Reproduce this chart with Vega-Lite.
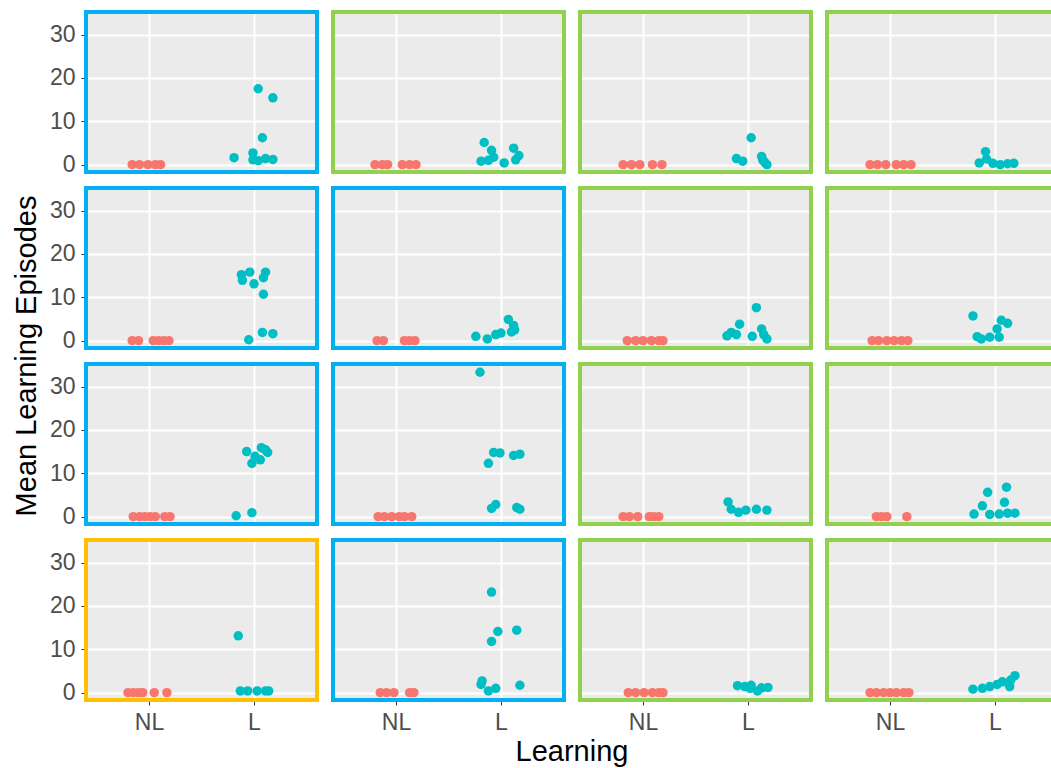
{
  "$schema": "https://vega.github.io/schema/vega-lite/v6.json",
  "padding": {"left": 12, "top": 10, "right": 0, "bottom": 4},
  "bounds": "flush",
  "background": "white",
  "data": {"values": [
    {"r":1,"c":1,"group":"A"},{"r":1,"c":2,"group":"B"},{"r":1,"c":3,"group":"B"},{"r":1,"c":4,"group":"B"},
    {"r":2,"c":1,"group":"A"},{"r":2,"c":2,"group":"A"},{"r":2,"c":3,"group":"B"},{"r":2,"c":4,"group":"B"},
    {"r":3,"c":1,"group":"A"},{"r":3,"c":2,"group":"A"},{"r":3,"c":3,"group":"B"},{"r":3,"c":4,"group":"B"},
    {"r":4,"c":1,"group":"C"},{"r":4,"c":2,"group":"A"},{"r":4,"c":3,"group":"B"},{"r":4,"c":4,"group":"B"},

    {"r":1,"c":1,"Learning":"NL","pos":0.84,"value":0},{"r":1,"c":1,"Learning":"NL","pos":0.91,"value":0},{"r":1,"c":1,"Learning":"NL","pos":0.99,"value":0},{"r":1,"c":1,"Learning":"NL","pos":1.06,"value":0},{"r":1,"c":1,"Learning":"NL","pos":1.11,"value":0},
    {"r":1,"c":1,"Learning":"L","pos":2.04,"value":17.5},{"r":1,"c":1,"Learning":"L","pos":2.18,"value":15.4},{"r":1,"c":1,"Learning":"L","pos":2.08,"value":6.2},{"r":1,"c":1,"Learning":"L","pos":1.81,"value":1.6},{"r":1,"c":1,"Learning":"L","pos":1.99,"value":2.7},{"r":1,"c":1,"Learning":"L","pos":1.99,"value":1.1},{"r":1,"c":1,"Learning":"L","pos":2.11,"value":1.4},{"r":1,"c":1,"Learning":"L","pos":2.18,"value":1.2},{"r":1,"c":1,"Learning":"L","pos":2.04,"value":0.9},

    {"r":1,"c":2,"Learning":"NL","pos":0.80,"value":0},{"r":1,"c":2,"Learning":"NL","pos":0.87,"value":0},{"r":1,"c":2,"Learning":"NL","pos":0.92,"value":0},{"r":1,"c":2,"Learning":"NL","pos":1.06,"value":0},{"r":1,"c":2,"Learning":"NL","pos":1.13,"value":0},{"r":1,"c":2,"Learning":"NL","pos":1.19,"value":0},
    {"r":1,"c":2,"Learning":"L","pos":1.84,"value":5.1},{"r":1,"c":2,"Learning":"L","pos":1.91,"value":3.3},{"r":1,"c":2,"Learning":"L","pos":1.81,"value":0.8},{"r":1,"c":2,"Learning":"L","pos":1.88,"value":1.0},{"r":1,"c":2,"Learning":"L","pos":1.93,"value":1.7},{"r":1,"c":2,"Learning":"L","pos":2.03,"value":0.4},{"r":1,"c":2,"Learning":"L","pos":2.12,"value":3.8},{"r":1,"c":2,"Learning":"L","pos":2.17,"value":2.1},{"r":1,"c":2,"Learning":"L","pos":2.14,"value":1.1},

    {"r":1,"c":3,"Learning":"NL","pos":0.81,"value":0},{"r":1,"c":3,"Learning":"NL","pos":0.89,"value":0},{"r":1,"c":3,"Learning":"NL","pos":0.97,"value":0},{"r":1,"c":3,"Learning":"NL","pos":1.09,"value":0},{"r":1,"c":3,"Learning":"NL","pos":1.18,"value":0},
    {"r":1,"c":3,"Learning":"L","pos":2.03,"value":6.2},{"r":1,"c":3,"Learning":"L","pos":1.89,"value":1.4},{"r":1,"c":3,"Learning":"L","pos":1.95,"value":0.8},{"r":1,"c":3,"Learning":"L","pos":2.13,"value":1.9},{"r":1,"c":3,"Learning":"L","pos":2.16,"value":0.5},{"r":1,"c":3,"Learning":"L","pos":2.18,"value":0.0},{"r":1,"c":3,"Learning":"L","pos":2.14,"value":1.1},

    {"r":1,"c":4,"Learning":"NL","pos":0.81,"value":0},{"r":1,"c":4,"Learning":"NL","pos":0.88,"value":0},{"r":1,"c":4,"Learning":"NL","pos":0.96,"value":0},{"r":1,"c":4,"Learning":"NL","pos":1.06,"value":0},{"r":1,"c":4,"Learning":"NL","pos":1.13,"value":0},{"r":1,"c":4,"Learning":"NL","pos":1.20,"value":0},
    {"r":1,"c":4,"Learning":"L","pos":1.91,"value":3.0},{"r":1,"c":4,"Learning":"L","pos":1.85,"value":0.4},{"r":1,"c":4,"Learning":"L","pos":1.92,"value":1.3},{"r":1,"c":4,"Learning":"L","pos":1.98,"value":0.3},{"r":1,"c":4,"Learning":"L","pos":2.05,"value":0.0},{"r":1,"c":4,"Learning":"L","pos":2.12,"value":0.2},{"r":1,"c":4,"Learning":"L","pos":2.18,"value":0.3},

    {"r":2,"c":1,"Learning":"NL","pos":0.84,"value":0},{"r":2,"c":1,"Learning":"NL","pos":0.90,"value":0},{"r":2,"c":1,"Learning":"NL","pos":1.04,"value":0},{"r":2,"c":1,"Learning":"NL","pos":1.09,"value":0},{"r":2,"c":1,"Learning":"NL","pos":1.14,"value":0},{"r":2,"c":1,"Learning":"NL","pos":1.19,"value":0},
    {"r":2,"c":1,"Learning":"L","pos":1.88,"value":15.2},{"r":2,"c":1,"Learning":"L","pos":1.89,"value":13.9},{"r":2,"c":1,"Learning":"L","pos":1.96,"value":15.8},{"r":2,"c":1,"Learning":"L","pos":2.00,"value":13.1},{"r":2,"c":1,"Learning":"L","pos":2.09,"value":14.5},{"r":2,"c":1,"Learning":"L","pos":2.11,"value":15.8},{"r":2,"c":1,"Learning":"L","pos":2.09,"value":10.7},{"r":2,"c":1,"Learning":"L","pos":1.95,"value":0.2},{"r":2,"c":1,"Learning":"L","pos":2.08,"value":1.9},{"r":2,"c":1,"Learning":"L","pos":2.18,"value":1.6},

    {"r":2,"c":2,"Learning":"NL","pos":0.82,"value":0},{"r":2,"c":2,"Learning":"NL","pos":0.88,"value":0},{"r":2,"c":2,"Learning":"NL","pos":1.08,"value":0},{"r":2,"c":2,"Learning":"NL","pos":1.13,"value":0},{"r":2,"c":2,"Learning":"NL","pos":1.18,"value":0},
    {"r":2,"c":2,"Learning":"L","pos":1.76,"value":1.0},{"r":2,"c":2,"Learning":"L","pos":1.87,"value":0.4},{"r":2,"c":2,"Learning":"L","pos":1.95,"value":1.4},{"r":2,"c":2,"Learning":"L","pos":2.00,"value":1.75},{"r":2,"c":2,"Learning":"L","pos":2.07,"value":4.9},{"r":2,"c":2,"Learning":"L","pos":2.12,"value":3.5},{"r":2,"c":2,"Learning":"L","pos":2.13,"value":2.5},{"r":2,"c":2,"Learning":"L","pos":2.10,"value":2.0},

    {"r":2,"c":3,"Learning":"NL","pos":0.85,"value":0},{"r":2,"c":3,"Learning":"NL","pos":0.93,"value":0},{"r":2,"c":3,"Learning":"NL","pos":1.00,"value":0},{"r":2,"c":3,"Learning":"NL","pos":1.08,"value":0},{"r":2,"c":3,"Learning":"NL","pos":1.15,"value":0},{"r":2,"c":3,"Learning":"NL","pos":1.19,"value":0},
    {"r":2,"c":3,"Learning":"L","pos":1.80,"value":1.1},{"r":2,"c":3,"Learning":"L","pos":1.84,"value":1.9},{"r":2,"c":3,"Learning":"L","pos":1.89,"value":1.4},{"r":2,"c":3,"Learning":"L","pos":1.92,"value":3.8},{"r":2,"c":3,"Learning":"L","pos":2.04,"value":1.0},{"r":2,"c":3,"Learning":"L","pos":2.08,"value":7.6},{"r":2,"c":3,"Learning":"L","pos":2.13,"value":2.7},{"r":2,"c":3,"Learning":"L","pos":2.15,"value":1.4},{"r":2,"c":3,"Learning":"L","pos":2.18,"value":0.4},

    {"r":2,"c":4,"Learning":"NL","pos":0.83,"value":0},{"r":2,"c":4,"Learning":"NL","pos":0.89,"value":0},{"r":2,"c":4,"Learning":"NL","pos":0.97,"value":0},{"r":2,"c":4,"Learning":"NL","pos":1.04,"value":0},{"r":2,"c":4,"Learning":"NL","pos":1.11,"value":0},{"r":2,"c":4,"Learning":"NL","pos":1.17,"value":0},
    {"r":2,"c":4,"Learning":"L","pos":1.79,"value":5.7},{"r":2,"c":4,"Learning":"L","pos":1.83,"value":0.9},{"r":2,"c":4,"Learning":"L","pos":1.87,"value":0.4},{"r":2,"c":4,"Learning":"L","pos":1.95,"value":0.8},{"r":2,"c":4,"Learning":"L","pos":2.02,"value":2.7},{"r":2,"c":4,"Learning":"L","pos":2.04,"value":0.8},{"r":2,"c":4,"Learning":"L","pos":2.06,"value":4.7},{"r":2,"c":4,"Learning":"L","pos":2.12,"value":4.0},

    {"r":3,"c":1,"Learning":"NL","pos":0.85,"value":0},{"r":3,"c":1,"Learning":"NL","pos":0.91,"value":0},{"r":3,"c":1,"Learning":"NL","pos":0.96,"value":0},{"r":3,"c":1,"Learning":"NL","pos":1.01,"value":0},{"r":3,"c":1,"Learning":"NL","pos":1.06,"value":0},{"r":3,"c":1,"Learning":"NL","pos":1.15,"value":0},{"r":3,"c":1,"Learning":"NL","pos":1.20,"value":0},
    {"r":3,"c":1,"Learning":"L","pos":1.83,"value":0.2},{"r":3,"c":1,"Learning":"L","pos":1.98,"value":0.9},{"r":3,"c":1,"Learning":"L","pos":1.93,"value":15.0},{"r":3,"c":1,"Learning":"L","pos":1.98,"value":12.3},{"r":3,"c":1,"Learning":"L","pos":2.01,"value":13.9},{"r":3,"c":1,"Learning":"L","pos":2.06,"value":13.1},{"r":3,"c":1,"Learning":"L","pos":2.07,"value":15.9},{"r":3,"c":1,"Learning":"L","pos":2.11,"value":15.4},{"r":3,"c":1,"Learning":"L","pos":2.13,"value":14.8},

    {"r":3,"c":2,"Learning":"NL","pos":0.83,"value":0},{"r":3,"c":2,"Learning":"NL","pos":0.89,"value":0},{"r":3,"c":2,"Learning":"NL","pos":0.96,"value":0},{"r":3,"c":2,"Learning":"NL","pos":1.03,"value":0},{"r":3,"c":2,"Learning":"NL","pos":1.08,"value":0},{"r":3,"c":2,"Learning":"NL","pos":1.15,"value":0},
    {"r":3,"c":2,"Learning":"L","pos":1.80,"value":33.3},{"r":3,"c":2,"Learning":"L","pos":1.93,"value":14.8},{"r":3,"c":2,"Learning":"L","pos":1.99,"value":14.7},{"r":3,"c":2,"Learning":"L","pos":1.88,"value":12.3},{"r":3,"c":2,"Learning":"L","pos":2.12,"value":14.1},{"r":3,"c":2,"Learning":"L","pos":2.18,"value":14.4},{"r":3,"c":2,"Learning":"L","pos":1.91,"value":1.9},{"r":3,"c":2,"Learning":"L","pos":1.95,"value":2.8},{"r":3,"c":2,"Learning":"L","pos":2.15,"value":2.1},{"r":3,"c":2,"Learning":"L","pos":2.18,"value":1.7},

    {"r":3,"c":3,"Learning":"NL","pos":0.81,"value":0},{"r":3,"c":3,"Learning":"NL","pos":0.87,"value":0},{"r":3,"c":3,"Learning":"NL","pos":0.95,"value":0},{"r":3,"c":3,"Learning":"NL","pos":1.06,"value":0},{"r":3,"c":3,"Learning":"NL","pos":1.10,"value":0},{"r":3,"c":3,"Learning":"NL","pos":1.15,"value":0},
    {"r":3,"c":3,"Learning":"L","pos":1.81,"value":3.4},{"r":3,"c":3,"Learning":"L","pos":1.84,"value":1.7},{"r":3,"c":3,"Learning":"L","pos":1.91,"value":1.0},{"r":3,"c":3,"Learning":"L","pos":1.98,"value":1.5},{"r":3,"c":3,"Learning":"L","pos":2.08,"value":1.7},{"r":3,"c":3,"Learning":"L","pos":2.18,"value":1.5},

    {"r":3,"c":4,"Learning":"NL","pos":0.87,"value":0},{"r":3,"c":4,"Learning":"NL","pos":0.92,"value":0},{"r":3,"c":4,"Learning":"NL","pos":0.97,"value":0},{"r":3,"c":4,"Learning":"NL","pos":1.16,"value":0},
    {"r":3,"c":4,"Learning":"L","pos":1.80,"value":0.6},{"r":3,"c":4,"Learning":"L","pos":1.88,"value":2.5},{"r":3,"c":4,"Learning":"L","pos":1.93,"value":5.6},{"r":3,"c":4,"Learning":"L","pos":1.95,"value":0.5},{"r":3,"c":4,"Learning":"L","pos":2.04,"value":0.6},{"r":3,"c":4,"Learning":"L","pos":2.09,"value":3.3},{"r":3,"c":4,"Learning":"L","pos":2.11,"value":6.8},{"r":3,"c":4,"Learning":"L","pos":2.12,"value":0.8},{"r":3,"c":4,"Learning":"L","pos":2.19,"value":0.8},

    {"r":4,"c":1,"Learning":"NL","pos":0.80,"value":0},{"r":4,"c":1,"Learning":"NL","pos":0.85,"value":0},{"r":4,"c":1,"Learning":"NL","pos":0.90,"value":0},{"r":4,"c":1,"Learning":"NL","pos":0.94,"value":0},{"r":4,"c":1,"Learning":"NL","pos":1.05,"value":0},{"r":4,"c":1,"Learning":"NL","pos":1.17,"value":0},
    {"r":4,"c":1,"Learning":"L","pos":1.85,"value":13.1},{"r":4,"c":1,"Learning":"L","pos":1.87,"value":0.4},{"r":4,"c":1,"Learning":"L","pos":1.94,"value":0.4},{"r":4,"c":1,"Learning":"L","pos":2.03,"value":0.4},{"r":4,"c":1,"Learning":"L","pos":2.11,"value":0.4},{"r":4,"c":1,"Learning":"L","pos":2.14,"value":0.4},

    {"r":4,"c":2,"Learning":"NL","pos":0.85,"value":0},{"r":4,"c":2,"Learning":"NL","pos":0.91,"value":0},{"r":4,"c":2,"Learning":"NL","pos":0.98,"value":0},{"r":4,"c":2,"Learning":"NL","pos":1.13,"value":0},{"r":4,"c":2,"Learning":"NL","pos":1.17,"value":0},
    {"r":4,"c":2,"Learning":"L","pos":1.91,"value":23.2},{"r":4,"c":2,"Learning":"L","pos":1.97,"value":14.1},{"r":4,"c":2,"Learning":"L","pos":1.91,"value":11.8},{"r":4,"c":2,"Learning":"L","pos":2.15,"value":14.4},{"r":4,"c":2,"Learning":"L","pos":1.82,"value":2.7},{"r":4,"c":2,"Learning":"L","pos":1.81,"value":1.9},{"r":4,"c":2,"Learning":"L","pos":1.88,"value":0.4},{"r":4,"c":2,"Learning":"L","pos":1.95,"value":1.0},{"r":4,"c":2,"Learning":"L","pos":2.18,"value":1.7},

    {"r":4,"c":3,"Learning":"NL","pos":0.86,"value":0},{"r":4,"c":3,"Learning":"NL","pos":0.93,"value":0},{"r":4,"c":3,"Learning":"NL","pos":1.01,"value":0},{"r":4,"c":3,"Learning":"NL","pos":1.09,"value":0},{"r":4,"c":3,"Learning":"NL","pos":1.15,"value":0},{"r":4,"c":3,"Learning":"NL","pos":1.19,"value":0},
    {"r":4,"c":3,"Learning":"L","pos":1.90,"value":1.6},{"r":4,"c":3,"Learning":"L","pos":1.97,"value":1.4},{"r":4,"c":3,"Learning":"L","pos":2.03,"value":1.7},{"r":4,"c":3,"Learning":"L","pos":2.09,"value":0.4},{"r":4,"c":3,"Learning":"L","pos":2.13,"value":1.1},{"r":4,"c":3,"Learning":"L","pos":2.19,"value":1.2},{"r":4,"c":3,"Learning":"L","pos":2.02,"value":1.0},

    {"r":4,"c":4,"Learning":"NL","pos":0.81,"value":0},{"r":4,"c":4,"Learning":"NL","pos":0.87,"value":0},{"r":4,"c":4,"Learning":"NL","pos":0.94,"value":0},{"r":4,"c":4,"Learning":"NL","pos":1.00,"value":0},{"r":4,"c":4,"Learning":"NL","pos":1.06,"value":0},{"r":4,"c":4,"Learning":"NL","pos":1.13,"value":0},{"r":4,"c":4,"Learning":"NL","pos":1.18,"value":0},
    {"r":4,"c":4,"Learning":"L","pos":1.79,"value":0.8},{"r":4,"c":4,"Learning":"L","pos":1.88,"value":1.0},{"r":4,"c":4,"Learning":"L","pos":1.95,"value":1.4},{"r":4,"c":4,"Learning":"L","pos":2.02,"value":1.9},{"r":4,"c":4,"Learning":"L","pos":2.07,"value":2.5},{"r":4,"c":4,"Learning":"L","pos":2.14,"value":1.4},{"r":4,"c":4,"Learning":"L","pos":2.15,"value":2.9},{"r":4,"c":4,"Learning":"L","pos":2.19,"value":3.9}
  ]},
  "facet": {
    "row": {"field": "r", "type": "ordinal", "header": {"labels": false, "title": "Mean Learning Episodes", "titleFontSize": 29, "titleFont": "Liberation Sans", "titleFontWeight": "normal", "titleColor": "black", "titlePadding": -3}},
    "column": {"field": "c", "type": "ordinal", "header": {"labels": false, "title": "Learning", "titleOrient": "bottom", "labelOrient": "bottom", "titleFontSize": 29, "titleFont": "Liberation Sans", "titleFontWeight": "normal", "titleColor": "black", "titlePadding": -6}}
  },
  "spacing": {"row": 16, "column": 16},
  "spec": {
    "width": 231,
    "height": 160,
    "layer": [
      {
        "transform": [{"filter": "isValid(datum.value)"}],
        "mark": {"type": "circle", "size": 90, "opacity": 1},
        "encoding": {
          "x": {"field": "pos", "type": "quantitative", "title": null,
                "scale": {"domain": [0.4, 2.6], "nice": false, "zero": false},
                "axis": {"values": [1, 2], "labelExpr": "datum.value === 1 ? 'NL' : 'L'", "gridWidth": 2, "tickSize": 5, "labelPadding": 6}},
          "y": {"field": "value", "type": "quantitative", "title": null,
                "scale": {"domain": [-1.7, 35.2], "nice": false, "zero": false},
                "axis": {"values": [0, 5, 10, 15, 20, 25, 30, 35],
                         "labelExpr": "datum.value % 10 === 0 ? datum.label : ''",
                         "gridWidth": {"condition": {"test": "datum.value % 10 === 0", "value": 2}, "value": 1},
                         "tickOpacity": {"condition": {"test": "datum.value % 10 === 0", "value": 1}, "value": 0},
                         "tickSize": 5, "labelPadding": 6}},
          "color": {"field": "Learning", "type": "nominal", "scale": {"domain": ["NL", "L"], "range": ["#F8766D", "#00BFC4"]}, "legend": null}
        }
      },
      {
        "transform": [{"filter": "datum.group != null"}],
        "mark": {"type": "rect", "fill": null, "filled": false, "strokeWidth": 4},
        "encoding": {
          "x": {"datum": 0.4},
          "x2": {"datum": 2.6},
          "y": {"datum": -1.7},
          "y2": {"datum": 35.2},
          "stroke": {"field": "group", "type": "nominal", "scale": {"domain": ["A", "B", "C"], "range": ["#00B0F0", "#92D050", "#FFC000"]}, "legend": null}
        }
      }
    ]
  },
  "config": {
    "view": {"fill": "#EBEBEB", "stroke": null},
    "style": {"cell": {"fill": "#EBEBEB", "stroke": null}},
    "axis": {"domain": false, "gridColor": "white", "gridOpacity": 1, "tickColor": "#333333", "labelColor": "#4D4D4D", "labelFont": "Liberation Sans", "labelFontSize": 23}
  }
}
